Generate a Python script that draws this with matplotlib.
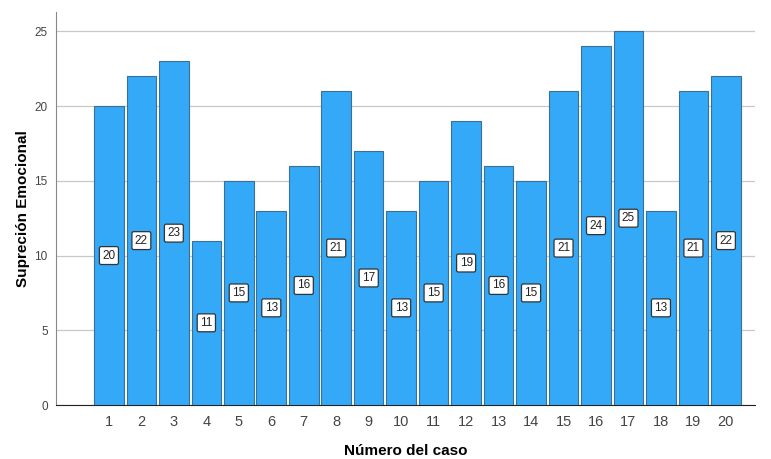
import matplotlib
matplotlib.use("Agg")
import matplotlib.pyplot as plt
import numpy as np

plt.rcParams["font.family"] = ["Liberation Sans", "DejaVu Sans"]

casos = list(range(1, 21))
valores = [20, 22, 23, 11, 15, 13, 16, 21, 17, 13, 15, 19, 16, 15, 21, 24, 25, 13, 21, 22]

fig = plt.figure(figsize=(7.71, 4.59), dpi=100)
ax = fig.add_axes([0.0726, 0.1176, 0.9064, 0.8564])

x = np.array(casos)
ax.bar(x, valores, width=0.91, color="#33a9f7", edgecolor="#3d6f94", linewidth=0.8, zorder=3)

# value labels in the middle of each bar
for xi, v in zip(x, valores):
    ax.text(xi, v / 2, str(v), ha="center", va="center", fontsize=8.5, color="#222222", zorder=4,
            bbox=dict(boxstyle="round,pad=0.25,rounding_size=0.15", facecolor="white",
                      edgecolor="#333333", linewidth=0.9))

ax.set_xlim(-0.63, 20.89)
ax.set_ylim(0, 26.3)
ax.set_yticks([0, 5, 10, 15, 20, 25])
ax.set_xticks(x)
ax.tick_params(axis="both", length=0, colors="#444444")
ax.tick_params(axis="y", labelsize=8.5, pad=6)
ax.tick_params(axis="x", labelsize=10.5, pad=7)
ax.grid(axis="y", color="#c8c8c8", linewidth=0.9, zorder=0)

for side in ["top", "right"]:
    ax.spines[side].set_visible(False)
ax.spines["left"].set_color("#888888")
ax.spines["bottom"].set_color("#222222")

ax.set_xlabel("Número del caso", fontsize=11, fontweight="bold", labelpad=11)
ax.set_ylabel("Supreción Emocional", fontsize=11, fontweight="bold", labelpad=3)

plt.savefig("out.png", dpi=100)
plt.close()
